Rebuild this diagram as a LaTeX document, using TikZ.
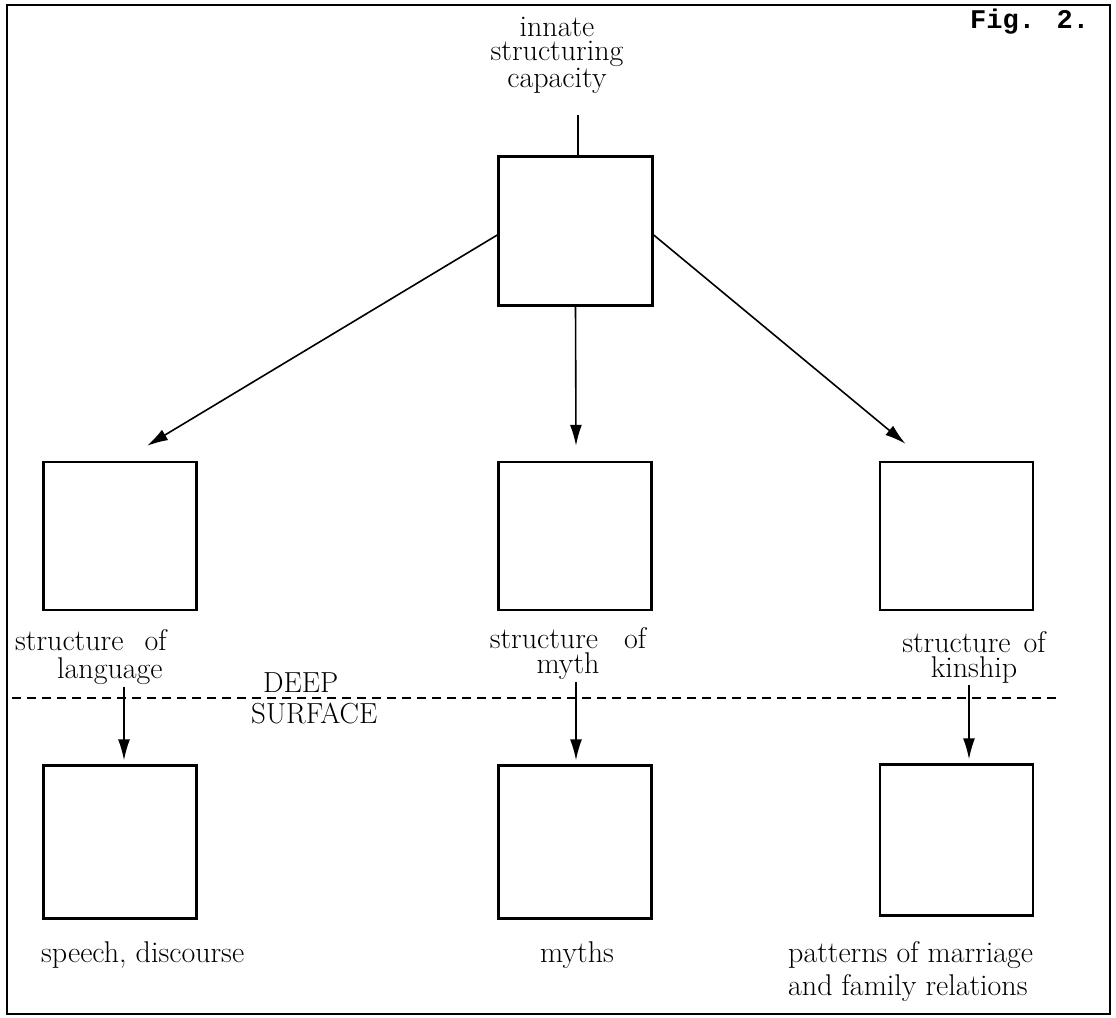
\documentclass[tikz,border=0pt]{standalone}
\usepackage{fontspec}
\newfontfamily\figfont{Liberation Mono}
\usetikzlibrary{arrows.meta,calc}
\begin{document}
\begin{tikzpicture}[x=1pt,y=-1pt,
  box/.style={draw,line width=2.4pt,minimum width=153pt,minimum height=148pt,inner sep=0pt},
  arr/.style={line width=1.6pt,-{Latex[length=21pt,width=12pt]}},
  lbl/.style={inner sep=0pt,font=\fontsize{30}{26}\selectfont,align=center},
  lblL/.style={inner sep=0pt,font=\fontsize{30}{33}\selectfont,align=left},
  caps/.style={inner sep=0pt,font=\fontsize{29}{30}\selectfont}]
\useasboundingbox (0,0) rectangle (1116,1017);
\node[draw,line width=1.8pt,minimum width=1103pt,minimum height=1009pt,inner sep=0pt] (frame) at (558.5,509.5) {};
% boxes
\node[box,minimum width=154pt,minimum height=149pt] (top) at (575.5,231) {};
\node[box] (mL) at (120,536) {};
\node[box] (mC) at (575,536) {};
\node[box] (mR) at (956.5,536) {};
\node[box,minimum height=153pt] (bL) at (120,842) {};
\node[box,minimum height=153pt] (bC) at (575,842) {};
\node[box,minimum height=151pt] (bR) at (956.5,840) {};
% texts
\node[lbl,font=\fontsize{30}{24.5}\selectfont,anchor=base] (innate) at (557,87) {innate\\structuring\\capacity};
\node[inner sep=0pt,anchor=base west,font=\figfont\bfseries\fontsize{27}{27}\selectfont] (fig) at (970,28) {Fig. 2.};
\node[lbl,font=\fontsize{30}{28}\selectfont,align=left,anchor=base west] (lang) at (15,678) {structure\hspace{12pt} of\\\hspace{42pt}language};
\node[lbl,font=\fontsize{30}{25}\selectfont,anchor=base] (myth) at (568,673) {structure\hspace{17pt} of\\myth};
\node[lbl,font=\fontsize{30}{25}\selectfont,anchor=base] (kin) at (974,677) {structure\hspace{4pt} of\\kinship};
\node[caps,anchor=base west] (deep) at (263,692) {DEEP};
\node[caps,anchor=base west] (surf) at (251,723) {SURFACE};
\node[lbl,anchor=base west] (speech) at (41,962) {speech, discourse};
\node[lbl,anchor=base] (myths) at (577,962) {myths};
\node[lblL,anchor=base west] (pat) at (788,995) {patterns of marriage\\and family relations};
% dashed divider
\coordinate (dl) at (12,698);
\coordinate (dr) at (1058,698);
\draw[line width=1.5pt,dash pattern=on 9pt off 6pt] (dl) -- (dr);
% connectors
\draw[line width=1.6pt] ($(top.north)+(2.5,-40)$) -- ($(top.north)+(2.5,0)$);
\draw[arr] ($(top.west)+(0,4)$) -- ($(mL.north)+(27,-15)$);
\draw[arr] (top.south) -- ($(mC.north)+(1,-15)$);
\draw[arr] ($(top.east)+(0,4)$) -- ($(mR.north)+(-51,-17)$);
\draw[arr] ($(bL.north)+(4,-77)$) -- ($(bL.north)+(4,-4)$);
\draw[arr] ($(bC.north)+(1,-82)$) -- ($(bC.north)+(1,-4)$);
\draw[arr] ($(bR.north)+(12.5,-78)$) -- ($(bR.north)+(12.5,-4)$);
\end{tikzpicture}
\end{document}
